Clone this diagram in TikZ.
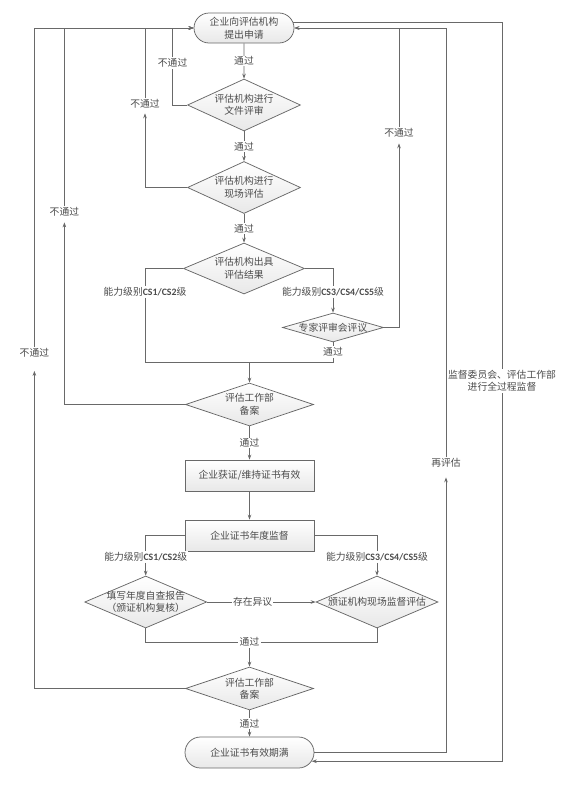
\documentclass[tikz,border=0pt]{standalone}
\usepackage{fontspec}
\setmainfont{Noto Sans CJK SC}
\newfontfamily\nivelfont{Carlito}
\usepackage{xcolor}
\usepackage{tikz}
\usetikzlibrary{arrows.meta,shapes.geometric,shapes.misc}
\definecolor{lineagris}{RGB}{105,105,105}
\definecolor{textogris}{RGB}{75,75,75}
\newcommand{\nivel}[1]{{\nivelfont\bfseries #1}}

\begin{document}
\begin{tikzpicture}[x=1pt, y=-1pt, >={Stealth[length=5pt,width=3.6pt]},
    line width=0.75pt, lineagris, text=textogris,
    font=\fontsize{9.8}{12.5}\selectfont,
    caja/.style={rectangle, draw=lineagris, top color=white, bottom color=gray!18,
        minimum width=129pt, minimum height=31pt, inner sep=0pt, align=center},
    term/.style={caja, rounded rectangle},
    rombo/.style={diamond, aspect=2, draw=lineagris, top color=white, bottom color=gray!18,
        inner sep=0pt, align=center},
    etq/.style={fill=white, inner sep=1pt, align=center}]
    \useasboundingbox (0,0) rectangle (567,790);
    \node[term, minimum width=100pt, minimum height=30pt] (solicitud) at (244,28) {企业向评估机构\\提出申请};
    \node[rombo, minimum width=113pt, minimum height=52pt] (docrev) at (244,105) {评估机构进行\\文件评审};
    \node[rombo, minimum width=113pt, minimum height=52pt] (sitrev) at (244,187.5) {评估机构进行\\现场评估};
    \node[rombo, minimum width=121pt, minimum height=51pt] (resultado) at (244,268.5) {评估机构出具\\评估结果};
    \node[rombo, minimum width=101pt, minimum height=29pt, aspect=3.5, inner xsep=-3pt] (experto) at (333,327.5) {专家评审会评议};
    \node[rombo, minimum width=128pt, minimum height=43pt, aspect=3] (registro1) at (249.5,404.5) {评估工作部\\备案};
    \node[caja] (cert) at (249.5,475.5) {企业获证/维持证书有效};
    \node[caja] (anual) at (249.5,535.5) {企业证书年度监督};
    \node[rombo, minimum width=122pt, minimum height=52pt, aspect=2.2, inner xsep=-7pt] (autoeval) at (145.7,602) {填写年度自查报告\\（颁证机构复核）};
    \node[rombo, minimum width=122pt, minimum height=52pt, aspect=2.5] (insitu) at (377,602) {颁证机构现场监督评估};
    \node[rombo, minimum width=128pt, minimum height=43pt, aspect=3] (registro2) at (249.5,688.5) {评估工作部\\备案};
    \node[term, minimum height=31pt] (vencido) at (249.5,752.5) {企业证书有效期满};

    \node[etq] (nf1) at (172.6,63) {不通过};
    \node[etq] (nf2) at (145,104) {不通过};
    \node[etq] (nf3) at (64.4,212) {不通过};
    \node[etq] (nf4) at (34.4,353) {不通过};
    \node[etq] (nf5) at (399,133) {不通过};
    \node[etq] (nv1) at (145,292) {能力级别\nivel{CS1/CS2}级};
    \node[etq] (nv2) at (333,292) {能力级别\nivel{CS3/CS4/CS5}级};
    \node[etq] (nv3) at (145.7,557) {能力级别\nivel{CS1/CS2}级};
    \node[etq] (nv4) at (377,557) {能力级别\nivel{CS3/CS4/CS5}级};
    \node[etq] (ok4) at (333,352) {通过};
    \node[etq] (ok6) at (249.5,642) {通过};
    \node[etq] (reeval) at (446,463) {再评估};
    \node[etq] (superv) at (502,381) {监督委员会、评估工作部\\进行全过程监督};
    \coordinate (jn1) at (249.5,362);

    \draw[->] (solicitud) -- node[etq] (ok1) {通过} (docrev);
    \draw[->] (docrev) -- node[etq] (ok2) {通过} (sitrev);
    \draw[->] (sitrev) -- node[etq] (ok3) {通过} (resultado);
    \draw (docrev.west) -| (nf1.south);
    \draw[->] (nf1.north) |- (solicitud.west);
    \draw[->, shorten >=3.5pt] (sitrev.west) -| (nf2.south);
    \draw[->] (nf2.north) |- (solicitud.west);
    \draw[->, shorten >=4.5pt] (registro1.west) -| (nf3.south);
    \draw[->] (nf3.north) |- (solicitud.west);
    \draw[->, shorten >=12pt] (registro2.west) -| (nf4.south);
    \draw[->] (nf4.north) |- (solicitud.west);

    \draw (resultado.west) -| (nv1.north);
    \draw (nv1.south) |- (jn1);
    \draw (resultado.east) -| (nv2.north);
    \draw[->] (nv2.south) -- (experto.north);
    \draw (experto.south) -- (ok4.north);
    \draw (ok4.south) |- (jn1);
    \draw[->] (jn1) -- (registro1.north);
    \draw[->, shorten >=4.5pt] (experto.east) -| (nf5.south);
    \draw[->] (nf5.north) |- (solicitud.east);

    \draw[->] (registro1) -- node[etq] (ok5) {通过} (cert);
    \draw[->] (cert) -- (anual);
    \draw (anual.west) -| (nv3.north);
    \draw[->] (nv3.south) -- (autoeval.north);
    \draw (anual.east) -| (nv4.north);
    \draw[->] (nv4.south) -- (insitu.north);
    \draw[->] (autoeval.east) -- node[etq, pos=0.42] (disc) {存在异议} (insitu.west);
    \draw (autoeval.south) |- (ok6.west);
    \draw (insitu.south) |- (ok6.east);
    \draw[->] (ok6.south) -- (registro2.north);
    \draw[->] (registro2) -- node[etq] (ok7) {通过} (vencido);

    \draw[->, shorten >=8.5pt] (vencido.east) -| (reeval.south);
    \draw[->] (reeval.north) |- (solicitud.east);
    \draw (solicitud.7) -| (superv.north);
    \draw[->] (superv.south) |- (vencido.-8);
\end{tikzpicture}
\end{document}
